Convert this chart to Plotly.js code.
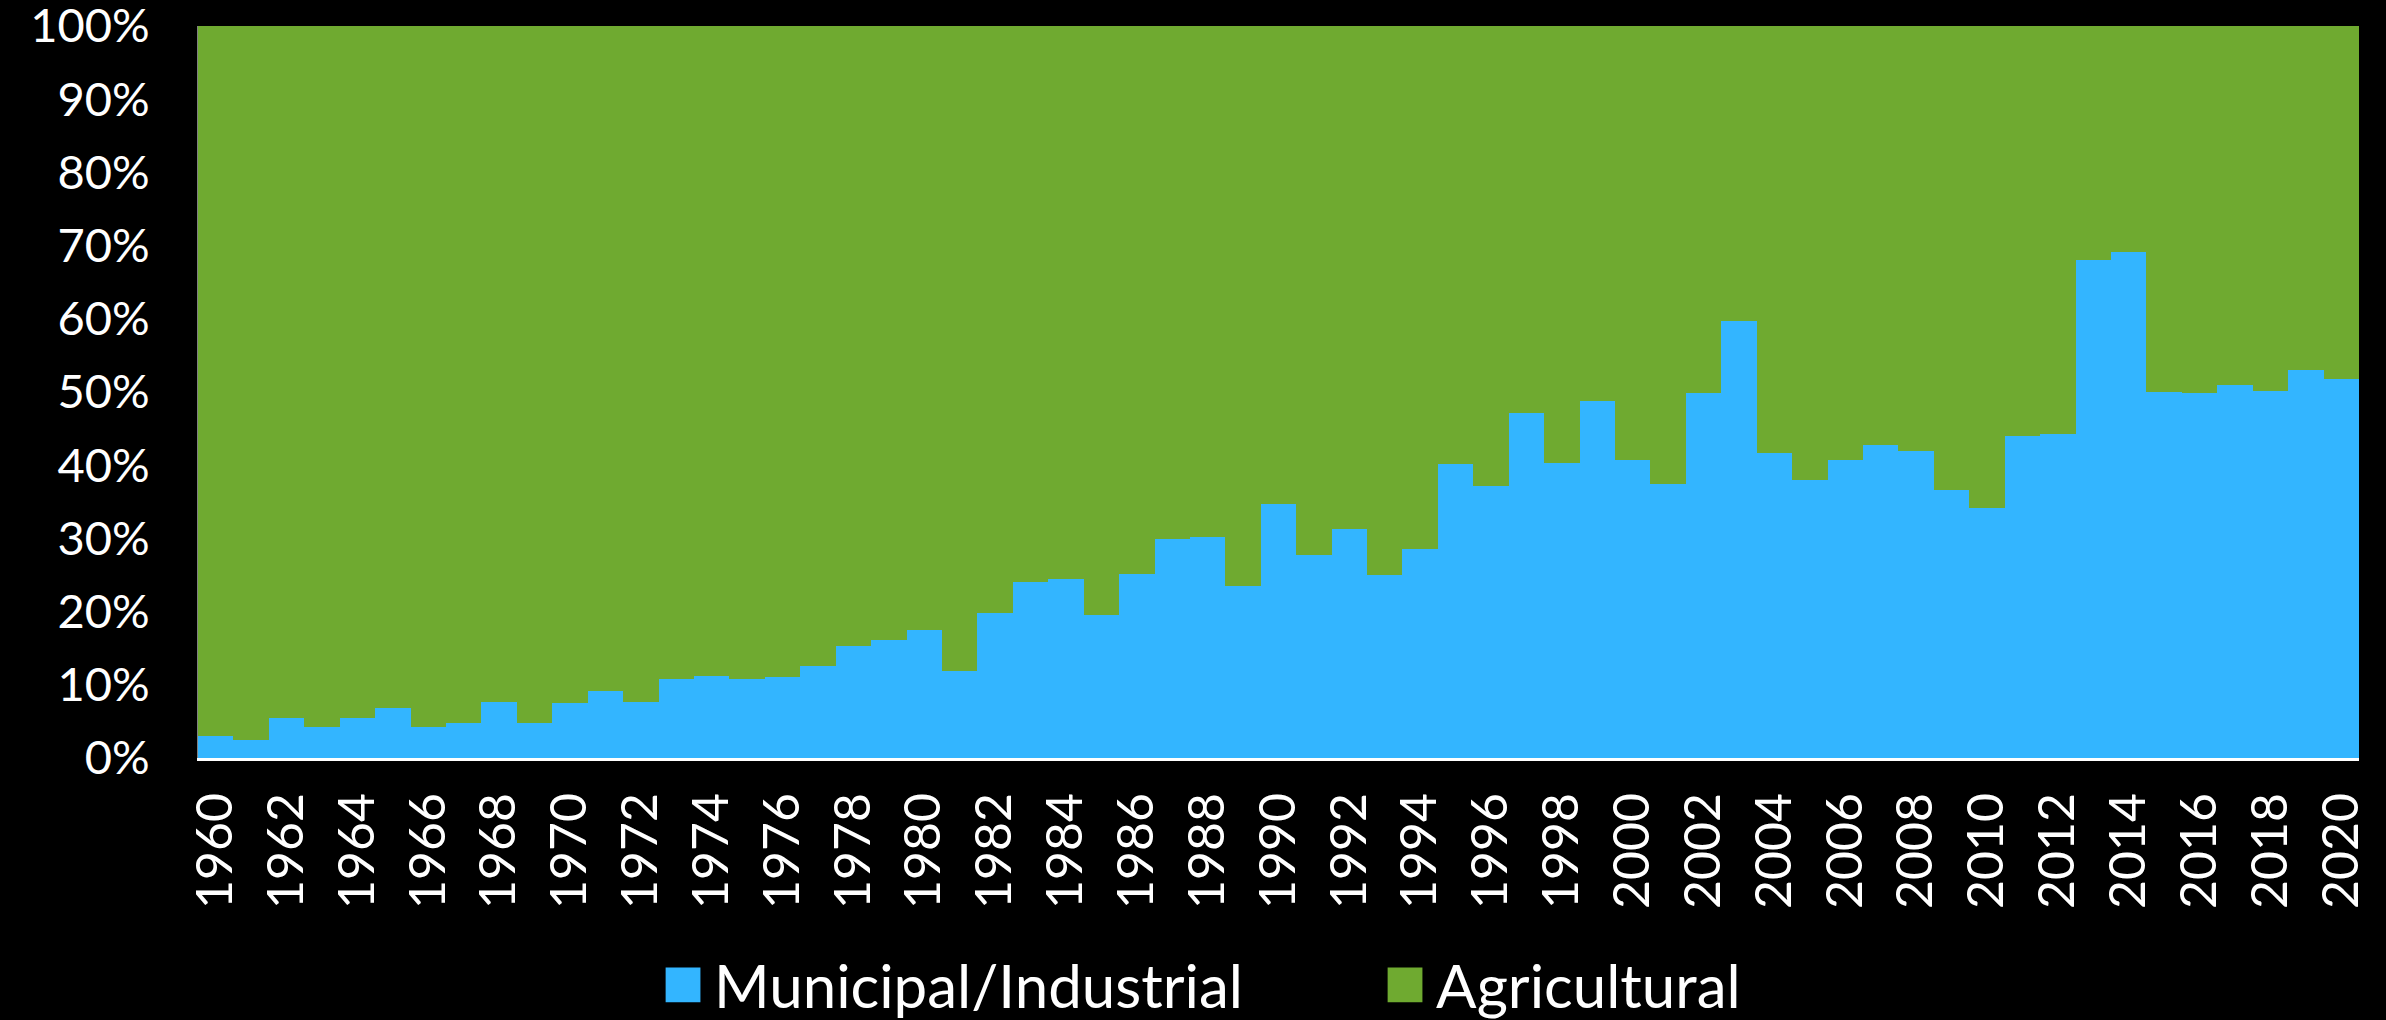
<!DOCTYPE html>
<html>
<head>
<meta charset="utf-8">
<script src="https://cdn.plot.ly/plotly-3.0.1.min.js"></script>
<style>
  html, body { margin: 0; padding: 0; background: #000; }
  #chart { width: 2386px; height: 1020px; }
</style>
</head>
<body>
<div id="chart"></div>
<script>
const years = [
  1960,1961,1962,1963,1964,1965,1966,1967,1968,1969,
  1970,1971,1972,1973,1974,1975,1976,1977,1978,1979,
  1980,1981,1982,1983,1984,1985,1986,1987,1988,1989,
  1990,1991,1992,1993,1994,1995,1996,1997,1998,1999,
  2000,2001,2002,2003,2004,2005,2006,2007,2008,2009,
  2010,2011,2012,2013,2014,2015,2016,2017,2018,2019,2020
];

// Share of withdrawals (%)
const municipalIndustrial = [
  3.0, 2.4, 5.5, 4.3, 5.5, 6.8, 4.3, 4.8, 7.7, 4.8,
  7.5, 9.1, 7.7, 10.8, 11.2, 10.8, 11.0, 12.6, 15.3, 16.1,
  17.5, 11.9, 19.8, 24.1, 24.4, 19.5, 25.1, 29.9, 30.2, 23.5,
  34.7, 27.8, 31.3, 25.0, 28.5, 40.1, 37.1, 47.2, 40.3, 48.8,
  40.7, 37.5, 49.9, 59.7, 41.7, 38.0, 40.7, 42.8, 41.9, 36.6,
  34.1, 44.0, 44.2, 68.0, 69.1, 50.0, 49.8, 51.0, 50.2, 53.0, 51.8
];

const agricultural = [
  97.0, 97.6, 94.5, 95.7, 94.5, 93.2, 95.7, 95.2, 92.3, 95.2,
  92.5, 90.9, 92.3, 89.2, 88.8, 89.2, 89.0, 87.4, 84.7, 83.9,
  82.5, 88.1, 80.2, 75.9, 75.6, 80.5, 74.9, 70.1, 69.8, 76.5,
  65.3, 72.2, 68.7, 75.0, 71.5, 59.9, 62.9, 52.8, 59.7, 51.2,
  59.3, 62.5, 50.1, 40.3, 58.3, 62.0, 59.3, 57.2, 58.1, 63.4,
  65.9, 56.0, 55.8, 32.0, 30.9, 50.0, 50.2, 49.0, 49.8, 47.0, 48.2
];

const seriesNames = ['Municipal/Industrial', 'Agricultural'];
const seriesColors = ['#33B5FF', '#6FAA30'];
const yTickVals = [0,10,20,30,40,50,60,70,80,90,100];
const yTickText = ['0%','10%','20%','30%','40%','50%','60%','70%','80%','90%','100%'];

const FONT = 'Lato, "Open Sans", sans-serif';

const traces = [
  {
    type: 'bar', name: seriesNames[0], x: years, y: municipalIndustrial,
    marker: { color: seriesColors[0], line: { width: 0 } },
    hoverinfo: 'x+y+name'
  },
  {
    type: 'bar', name: seriesNames[1], x: years, y: agricultural,
    marker: { color: seriesColors[1], line: { width: 0 } },
    hoverinfo: 'x+y+name'
  }
];

const layout = {
  width: 2386, height: 1020,
  paper_bgcolor: '#000', plot_bgcolor: '#000',
  margin: { l: 198, r: 27, t: 26, b: 262, pad: 0, autoexpand: false },
  barmode: 'stack', bargap: 0,
  font: { family: FONT, color: '#fff' },
  showlegend: true,
  legend: {
    orientation: 'h', x: 0.2101, xanchor: 'left', y: -0.31, yanchor: 'middle',
    font: { family: FONT, size: 60, color: '#fff' },
    bgcolor: 'rgba(0,0,0,0)', itemwidth: 52,
    entrywidth: 655, entrywidthmode: 'pixels',
    traceorder: 'normal', tracegroupgap: 0
  },
  xaxis: {
    type: 'linear', range: [1959.5, 2020.5], tick0: 1960, dtick: 2,
    tickangle: -90, showgrid: false, zeroline: false, automargin: false,
    showline: true, linecolor: '#ffffff', linewidth: 3,
    ticks: '', ticklabelstandoff: 12, ticklabeloverflow: 'allow',
    tickfont: { family: FONT, size: 50, color: '#fff' }
  },
  yaxis: {
    range: [0, 100], tickvals: yTickVals, ticktext: yTickText,
    showgrid: false, zeroline: false, automargin: false,
    showline: true, linecolor: '#808080', linewidth: 1,
    ticks: '', ticklabelstandoff: 38, ticklabeloverflow: 'allow',
    tickfont: { family: FONT, size: 47, color: '#fff' }
  }
};

Plotly.newPlot('chart', traces, layout, { displayModeBar: false, staticPlot: true }).then(function (gd) {
  // enlarge the legend swatches to match the reference's square keys
  gd.querySelectorAll('.legend .legendpoints path').forEach(function (p) {
    const t = p.getAttribute('transform') || '';
    p.setAttribute('transform', t + ' scale(2.9)');
  });
});
</script>
</body>
</html>
